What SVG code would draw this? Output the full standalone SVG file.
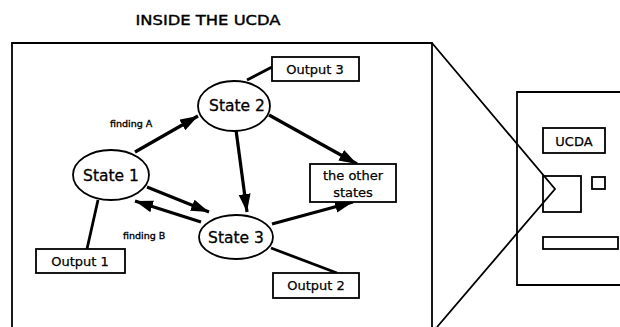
<svg xmlns="http://www.w3.org/2000/svg" width="620" height="327" viewBox="0 0 620 327">
<style>
text{font-family:"DejaVu Sans","Liberation Sans",sans-serif;fill:#000}
.st{font-size:15.5px;stroke:#000;stroke-width:0.3}
.ob{font-size:13px;stroke:#000;stroke-width:0.25}
.lb{font-size:9.5px;stroke:#000;stroke-width:0.35}
.node{fill:#fff;stroke:#000;stroke-width:1.8}
.arr{stroke:#000;stroke-width:3.2;fill:none;marker-end:url(#ah)}
.ln{stroke:#000;stroke-width:2.8;fill:none}
.thin{stroke:#000;stroke-width:1.8;fill:none}
</style>
<defs>
<marker id="ah" markerUnits="userSpaceOnUse" markerWidth="20" markerHeight="14" refX="18" refY="6" orient="auto">
<path d="M0,0 L18,6 L0,12 Z" fill="#000"/>
</marker>
</defs>
<rect width="620" height="327" fill="#fff"/>
<text x="208" y="25" style="font-size:14px;stroke:#000;stroke-width:0.4" text-anchor="middle" textLength="145" lengthAdjust="spacingAndGlyphs">INSIDE THE UCDA</text>
<g id="frame">
<path class="thin" d="M12,327 V43 H432 V327"/>
<path class="thin" d="M432,43 L555,189 L437,327"/>
</g>
<g id="computer">
<path class="thin" d="M620,92 H517 V285 H620"/>
<rect class="thin" x="543" y="128" width="62" height="25"/>
<text x="574" y="146" class="ob" text-anchor="middle">UCDA</text>
<rect class="thin" x="543" y="176" width="38" height="36"/>
<rect class="thin" x="592" y="177" width="13" height="12"/>
<rect class="thin" x="543" y="237" width="75" height="12"/>
</g>
<g id="connectors">
<line class="arr" x1="135" y1="152" x2="198" y2="116"/>
<line class="arr" x1="236" y1="130" x2="247" y2="212"/>
<line class="arr" x1="269" y1="115" x2="357" y2="164"/>
<line class="arr" x1="272" y1="224" x2="353" y2="202"/>
<line class="arr" x1="147" y1="187" x2="209" y2="212"/>
<line class="arr" x1="201" y1="222" x2="135" y2="201"/>
<line class="ln" x1="247" y1="80" x2="272" y2="67"/>
<line class="ln" x1="98" y1="200" x2="87" y2="249"/>
<line class="ln" x1="271" y1="248" x2="337" y2="273"/>
</g>
<g id="labels">
<text x="110" y="127" class="lb">finding A</text>
<text x="123" y="239" class="lb">finding B</text>
</g>
<g id="state1">
<ellipse class="node" cx="111" cy="175" rx="38" ry="25"/>
<text x="111" y="181" class="st" text-anchor="middle">State 1</text>
</g>
<g id="state2">
<ellipse class="node" cx="234" cy="106" rx="36" ry="25"/>
<text x="237" y="111" class="st" text-anchor="middle">State 2</text>
</g>
<g id="state3">
<ellipse class="node" cx="236" cy="237" rx="37" ry="22"/>
<text x="236" y="243" class="st" text-anchor="middle">State 3</text>
</g>
<g id="output3">
<rect class="node" x="272" y="57" width="87" height="24"/>
<text x="315" y="74" class="ob" text-anchor="middle">Output 3</text>
</g>
<g id="output1">
<rect class="node" x="36" y="249" width="89" height="24"/>
<text x="80" y="266" class="ob" text-anchor="middle">Output 1</text>
</g>
<g id="output2">
<rect class="node" x="273" y="273" width="86" height="25"/>
<text x="316" y="290" class="ob" text-anchor="middle">Output 2</text>
</g>
<g id="others">
<rect class="node" x="310" y="164" width="86" height="38"/>
<text x="353" y="180" class="ob" text-anchor="middle">the other</text>
<text x="353" y="197" class="ob" text-anchor="middle">states</text>
</g>
</svg>
